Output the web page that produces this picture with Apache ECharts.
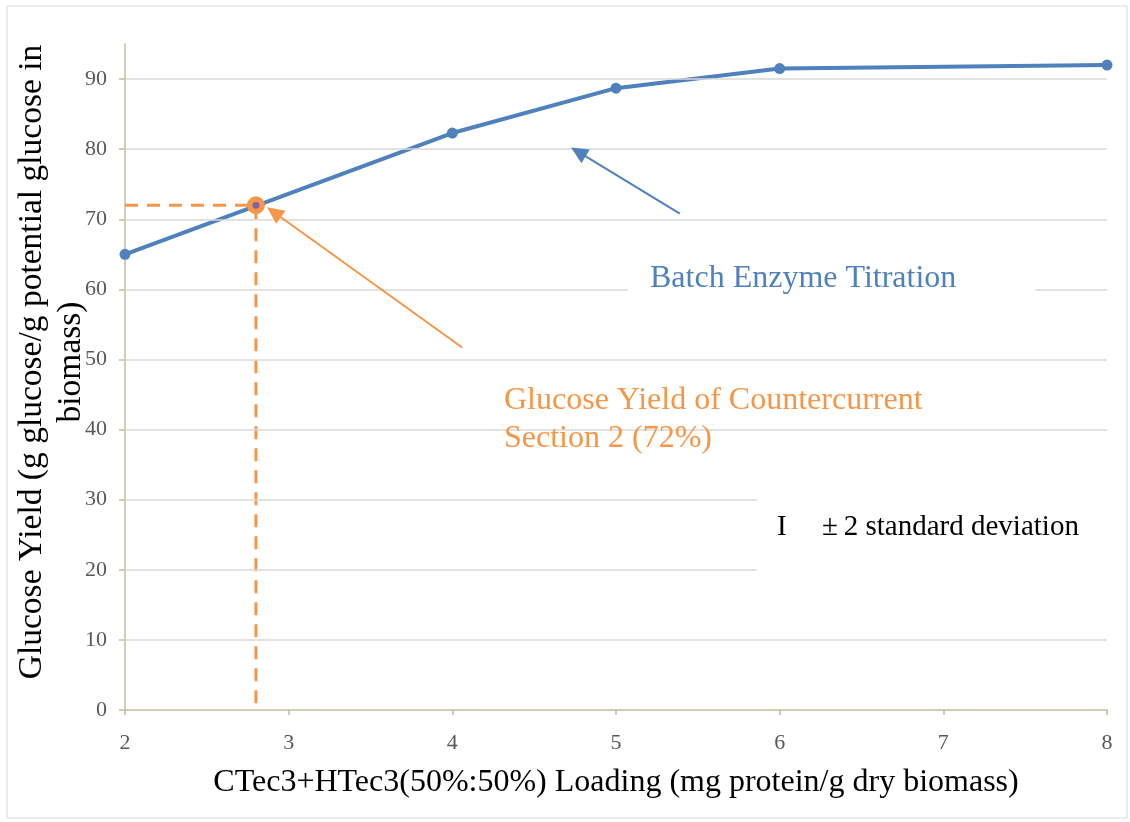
<!DOCTYPE html>
<html>
<head>
<meta charset="utf-8">
<script src="https://cdn.jsdelivr.net/npm/echarts@6/dist/echarts.min.js"></script>
<style>
  html, body { margin: 0; padding: 0; background: #fff; }
  #chart { width: 1130px; height: 822px; }
</style>
</head>
<body>
<div id="chart"></div>
<script>
// enzyme loading (mg protein / g dry biomass) and glucose yield
const loading = [2, 4, 5, 6, 8];
const glucoseYield = [65, 82.3, 88.7, 91.5, 92];
const yieldErr = [0.3, 0.3, 0.3, 0.3, 0.3];

// countercurrent section 2 reference point
const section2Loading = 2.8;
const section2Yield = 72;

const yTicks = [0, 10, 20, 30, 40, 50, 60, 70, 80, 90];

const blue = "#4f81bd";
const orange = "#f79646";
const serif = "Liberation Serif";

const chart = echarts.init(document.getElementById("chart"));

const option = {
  backgroundColor: "#fff",
  animation: false,
  grid: { left: 125, right: 23, top: 44, bottom: 112, containLabel: false, outerBoundsMode: "none" },
  xAxis: {
    type: "value",
    min: 2,
    max: 8,
    interval: 1,
    name: "CTec3+HTec3(50%:50%) Loading (mg protein/g dry biomass)",
    nameLocation: "middle",
    nameGap: 57,
    nameTextStyle: { fontFamily: serif, fontSize: 32, color: "#000" },
    axisLine: { lineStyle: { color: "#c4bd97", width: 1.5 } },
    axisTick: { show: true, length: 5, lineStyle: { color: "#c4bd97", width: 1.5 } },
    axisLabel: { fontFamily: serif, fontSize: 22, color: "#595959", margin: 22 },
    splitLine: { show: false }
  },
  yAxis: {
    type: "value",
    min: 0,
    max: 95,
    interval: 10,
    name: "Glucose Yield (g glucose/g potential glucose in\nbiomass)",
    nameLocation: "middle",
    nameGap: 34,
    nameMoveOverlap: false,
    nameTextStyle: { fontFamily: serif, fontSize: 33.5, color: "#000", lineHeight: 39, padding: [0, 0, 0, 30] },
    axisLine: { show: true, lineStyle: { color: "#c4bd97", width: 1.5 } },
    axisTick: { show: true, length: 6, customValues: yTicks, lineStyle: { color: "#c4bd97", width: 1.5 } },
    axisLabel: { fontFamily: serif, fontSize: 22, color: "#595959", margin: 18, customValues: yTicks },
    splitLine: { show: false }
  },
  graphic: [
    {
      type: "rect",
      shape: { x: 7, y: 6, width: 1120, height: 812 },
      style: { fill: "none", stroke: "#d9d9d9", lineWidth: 1 },
      z: -10
    },
    {
      type: "rect",
      shape: { x: 628, y: 264, width: 407, height: 34 },
      style: { fill: "#fff" },
      z: 50
    },
    {
      type: "text",
      x: 650,
      y: 279,
      style: { text: "Batch Enzyme Titration", fill: blue, font: "32px 'Liberation Serif'", verticalAlign: "middle" },
      z: 51
    },
    {
      type: "text",
      x: 504,
      y: 420,
      style: {
        text: "Glucose Yield of Countercurrent\nSection 2 (72%)",
        fill: orange,
        font: "32px 'Liberation Serif'",
        lineHeight: 38,
        verticalAlign: "middle"
      },
      z: 51
    },
    {
      type: "rect",
      shape: { x: 757, y: 490, width: 355, height: 88 },
      style: { fill: "#fff" },
      z: 50
    },
    {
      type: "text",
      x: 777,
      y: 527,
      style: { text: "I", fill: "#000", font: "29px 'Liberation Serif'", verticalAlign: "middle" },
      z: 51
    },
    {
      type: "text",
      x: 822,
      y: 527,
      style: { text: "\u00b1\u20092 standard deviation", fill: "#000", font: "29px 'Liberation Serif'", verticalAlign: "middle" },
      z: 51
    }
  ],
  series: [
    {
      // horizontal gridlines
      type: "line",
      data: [],
      silent: true,
      z: 0,
      markLine: {
        silent: true,
        symbol: "none",
        label: { show: false },
        lineStyle: { color: "#d9d9d9", width: 1.5, type: "solid" },
        data: yTicks.filter(v => v > 0).map(v => ({ yAxis: v }))
      }
    },
    {
      name: "Section 2 guide",
      type: "line",
      data: [
        [loading[0], section2Yield],
        [section2Loading, section2Yield],
        [section2Loading, 0]
      ],
      symbol: "none",
      lineStyle: { color: orange, width: 3, type: [13, 9] },
      z: 3
    },
    {
      name: "Batch Enzyme Titration",
      type: "line",
      data: loading.map((x, i) => [x, glucoseYield[i]]),
      symbol: "circle",
      symbolSize: 11,
      clip: false,
      itemStyle: { color: blue, opacity: 1 },
      lineStyle: { color: blue, width: 4 },
      z: 4,
      markLine: {
        silent: true,
        symbol: ["none", "triangle"],
        symbolSize: [16, 17],
        label: { show: false },
        data: [
          [
            { coord: [5.39, 70.8], lineStyle: { color: blue, width: 2, type: "solid" } },
            { coord: [4.77, 79.6] }
          ],
          [
            { coord: [4.06, 51.7], lineStyle: { color: orange, width: 2, type: "solid" } },
            { coord: [2.91, 71.0] }
          ]
        ]
      }
    },
    {
      name: "error",
      type: "custom",
      data: loading.map((x, i) => [x, glucoseYield[i] - yieldErr[i], glucoseYield[i] + yieldErr[i]]),
      renderItem: function (params, api) {
        const lo = api.coord([api.value(0), api.value(1)]);
        const hi = api.coord([api.value(0), api.value(2)]);
        const w = 4;
        const st = { stroke: "#595959", lineWidth: 1 };
        return {
          type: "group",
          children: [
            { type: "line", shape: { x1: lo[0], y1: lo[1], x2: hi[0], y2: hi[1] }, style: st },
            { type: "line", shape: { x1: lo[0] - w, y1: lo[1], x2: lo[0] + w, y2: lo[1] }, style: st },
            { type: "line", shape: { x1: hi[0] - w, y1: hi[1], x2: hi[0] + w, y2: hi[1] }, style: st }
          ]
        };
      },
      z: 3
    },
    {
      name: "Section 2 point",
      type: "scatter",
      data: [[section2Loading, section2Yield]],
      symbolSize: 18,
      itemStyle: { color: orange, opacity: 1 },
      z: 6
    },
    {
      name: "Section 2 center",
      type: "scatter",
      data: [[section2Loading, section2Yield]],
      symbolSize: 7,
      itemStyle: { color: "#8064a2", opacity: 1 },
      z: 7
    }
  ]
};

chart.setOption(option);
</script>
</body>
</html>
